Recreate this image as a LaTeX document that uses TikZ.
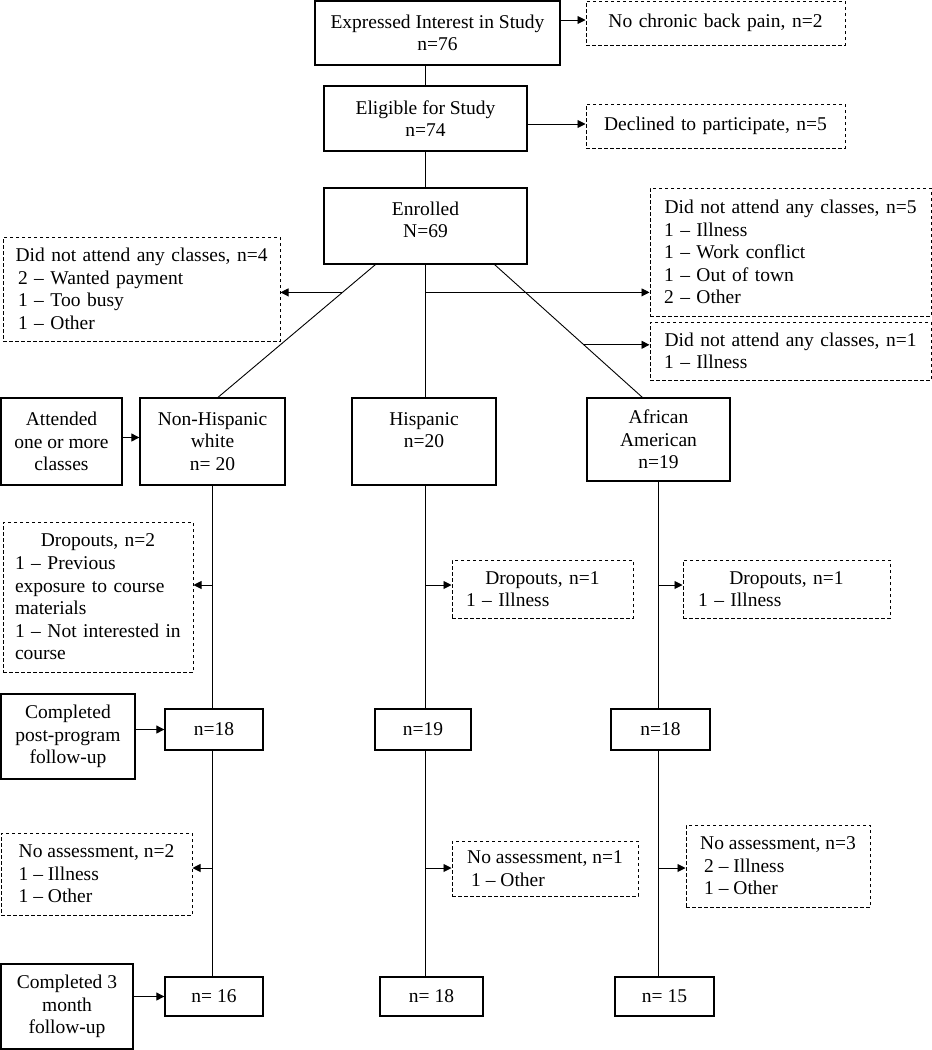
\documentclass[tikz,border=0pt]{standalone}
\usepackage{fontspec}
\setmainfont{Liberation Serif}
\usetikzlibrary{arrows.meta,calc}
\begin{document}
\begin{tikzpicture}[x=1pt,y=-1pt,
  every node/.style={font=\fontsize{19.5}{22.6}\selectfont},
  box/.style={draw, line width=1.3pt, inner sep=0pt, align=center},
  dbox/.style={draw, line width=1pt, dash pattern=on 3.5pt off 2.5pt, inner ysep=0pt, align=left},
  conn/.style={line width=0.9pt},
  arr/.style={line width=0.9pt, -{Triangle[length=8pt,width=8pt]}}]
\useasboundingbox (0,0) rectangle (932,1050);

% top part
\node[box, minimum width=245pt, minimum height=64pt] (top) at (437.5,33) {Expressed Interest in Study\\n=76};
\node[dbox, inner xsep=10pt, text width=239pt, minimum height=44pt, align=center] (nc) at (715.5,23) {No chronic back pain, n=2};
\node[box, minimum width=203pt, minimum height=65pt] (el) at (425.5,118.5) {Eligible for Study\\n=74};
\node[dbox, inner xsep=10pt, text width=239pt, minimum height=44pt, align=center] (dec) at (715.5,126) {Declined to participate, n=5};
\node[box, minimum width=203pt, minimum height=76pt] (enr) at (425.5,226) {Enrolled\\N=69\\[-10pt]\mbox{}};

\node[dbox, inner xsep=15pt, text width=247pt, minimum height=104pt] (lb) at (141.5,289) {\makebox[\hsize]{Did not attend any classes, n=4}\\2 – Wanted payment\\1 – Too busy\\1 – Other};
\node[dbox, inner xsep=14pt, text width=253pt, minimum height=128pt] (rb1) at (790.5,252) {\makebox[\hsize]{Did not attend any classes, n=5}\\1 – Illness\\1 – Work conflict\\1 – Out of town\\2 – Other};
\node[dbox, inner xsep=14pt, text width=253pt, minimum height=58pt] (rb2) at (790.5,351) {\makebox[\hsize]{Did not attend any classes, n=1}\\1 – Illness};

% group row
\node[box, minimum width=121pt, minimum height=87pt] (att) at (61.5,441.5) {Attended\\one or more\\classes};
\node[box, minimum width=145pt, minimum height=87pt] (nhw) at (212.5,441.5) {Non-Hispanic\\white\\n= 20};
\node[box, minimum width=144pt, minimum height=87pt] (hisp) at (424,441.5) {Hispanic\\n=20\\\mbox{}};
\node[box, minimum width=143pt, minimum height=83pt] (aa) at (658.5,439.5) {African\\American\\n=19};

% dropouts
\node[dbox, inner xsep=12pt, text width=166pt, minimum height=150pt] (d1) at (98,597) {\makebox[\hsize]{Dropouts, n=2}\\1 – Previous\\exposure to course\\materials\\1 – Not interested in\\course};
\node[dbox, inner xsep=14pt, text width=153pt, minimum height=58pt] (d2) at (542.5,589) {\makebox[\hsize]{Dropouts, n=1}\\1 – Illness};
\node[dbox, inner xsep=15pt, text width=177pt, minimum height=58pt] (d3) at (786.5,589) {\makebox[\hsize]{Dropouts, n=1}\\1 – Illness};

% post-program
\node[box, minimum width=134pt, minimum height=85pt] (cp) at (68,736.5) {Completed\\post-program\\follow-up};
\node[box, minimum width=98pt, minimum height=41pt] (n18a) at (214,729.5) {n=18};
\node[box, minimum width=96pt, minimum height=41pt] (n19) at (423,729.5) {n=19};
\node[box, minimum width=99pt, minimum height=41pt] (n18b) at (660.5,729.5) {n=18};

% no assessment
\node[dbox, inner xsep=0pt, minimum width=191pt, minimum height=82pt] (na1) at (96.5,874) {No assessment, n=2\\1 – Illness\\1 – Other};
\node[dbox, inner xsep=0pt, minimum width=186pt, minimum height=55pt] (na2) at (545,868.5) {No assessment, n=1\\\hspace*{4pt}1 – Other};
\node[dbox, inner xsep=0pt, minimum width=184pt, minimum height=82pt] (na3) at (778,866) {No assessment, n=3\\\hspace*{4pt}2 – Illness\\\hspace*{4pt}1 – Other};

% 3 month
\node[box, minimum width=132pt, minimum height=85pt] (c3) at (67,1006.5) {Completed 3\\month\\follow-up};
\node[box, minimum width=98pt, minimum height=39pt] (n16) at (214,996.5) {n= 16};
\node[box, minimum width=103pt, minimum height=39pt] (h18) at (431.5,996.5) {n= 18};
\node[box, minimum width=99pt, minimum height=39pt] (n15) at (664.5,996.5) {n= 15};

% connectors top
\draw[conn] (el.north) -- (el.north |- top.south);
\draw[conn] (el.south) -- (enr.north);
\draw[arr] ($(top.east |- nc.west)+(0,-3)$) -- ($(nc.west)+(0,-3)$);
\draw[arr] ($(el.east |- dec.west)+(0,-2)$) -- ($(dec.west)+(0,-2)$);

% diagonals
\coordinate (dl1) at ($(enr.south west)+(52,0)$);
\coordinate (dl2) at ($(nhw.north)+(5.5,0)$);
\draw[conn] (dl1) -- (dl2);
\coordinate (dr1) at ($(enr.south east)+(-33,0)$);
\coordinate (dr2) at ($(aa.north west)+(56,0)$);
\draw[conn] (dr1) -- (dr2);
\coordinate (pl) at ($(dl1)!0.209!(dl2)$);
\coordinate (pr) at ($(dr1)!0.604!(dr2)$);
\draw[arr] (pl) -- (lb.east |- pl);
\draw[arr] (enr.south |- pl) -- (rb1.west |- pl);
\draw[arr] (pr) -- (rb2.west |- pr);

% columns
\draw[conn] (enr.south) -- (enr.south |- hisp.north);
\draw[conn] (enr.south |- hisp.south) -- (enr.south |- n19.north);
\draw[conn] (enr.south |- n19.south) -- (enr.south |- h18.north);
\draw[conn] (nhw.south) -- (nhw.south |- n18a.north);
\draw[conn] (nhw.south |- n18a.south) -- (nhw.south |- n16.north);
\draw[conn] (aa.south) -- (aa.south |- n18b.north);
\draw[conn] (aa.south |- n18b.south) -- (aa.south |- n15.north);

% side arrows
\coordinate (rowD) at (0,585);
\coordinate (rowN) at (0,868);
\draw[arr] (nhw.south |- rowD) -- (d1.east |- rowD);
\draw[arr] (enr.south |- rowD) -- (d2.west |- rowD);
\draw[arr] (aa.south |- rowD) -- (d3.west |- rowD);
\draw[arr] (nhw.south |- rowN) -- (na1.east |- rowN);
\draw[arr] (enr.south |- rowN) -- (na2.west |- rowN);
\draw[arr] (aa.south |- rowN) -- (na3.west |- rowN);

\draw[arr] ($(att.east)+(0,-4)$) -- ($(nhw.west)+(0,-4)$);
\draw[arr] (cp.east |- n18a.west) -- (n18a.west);
\draw[arr] (c3.east |- n16.west) -- (n16.west);
\end{tikzpicture}
\end{document}
